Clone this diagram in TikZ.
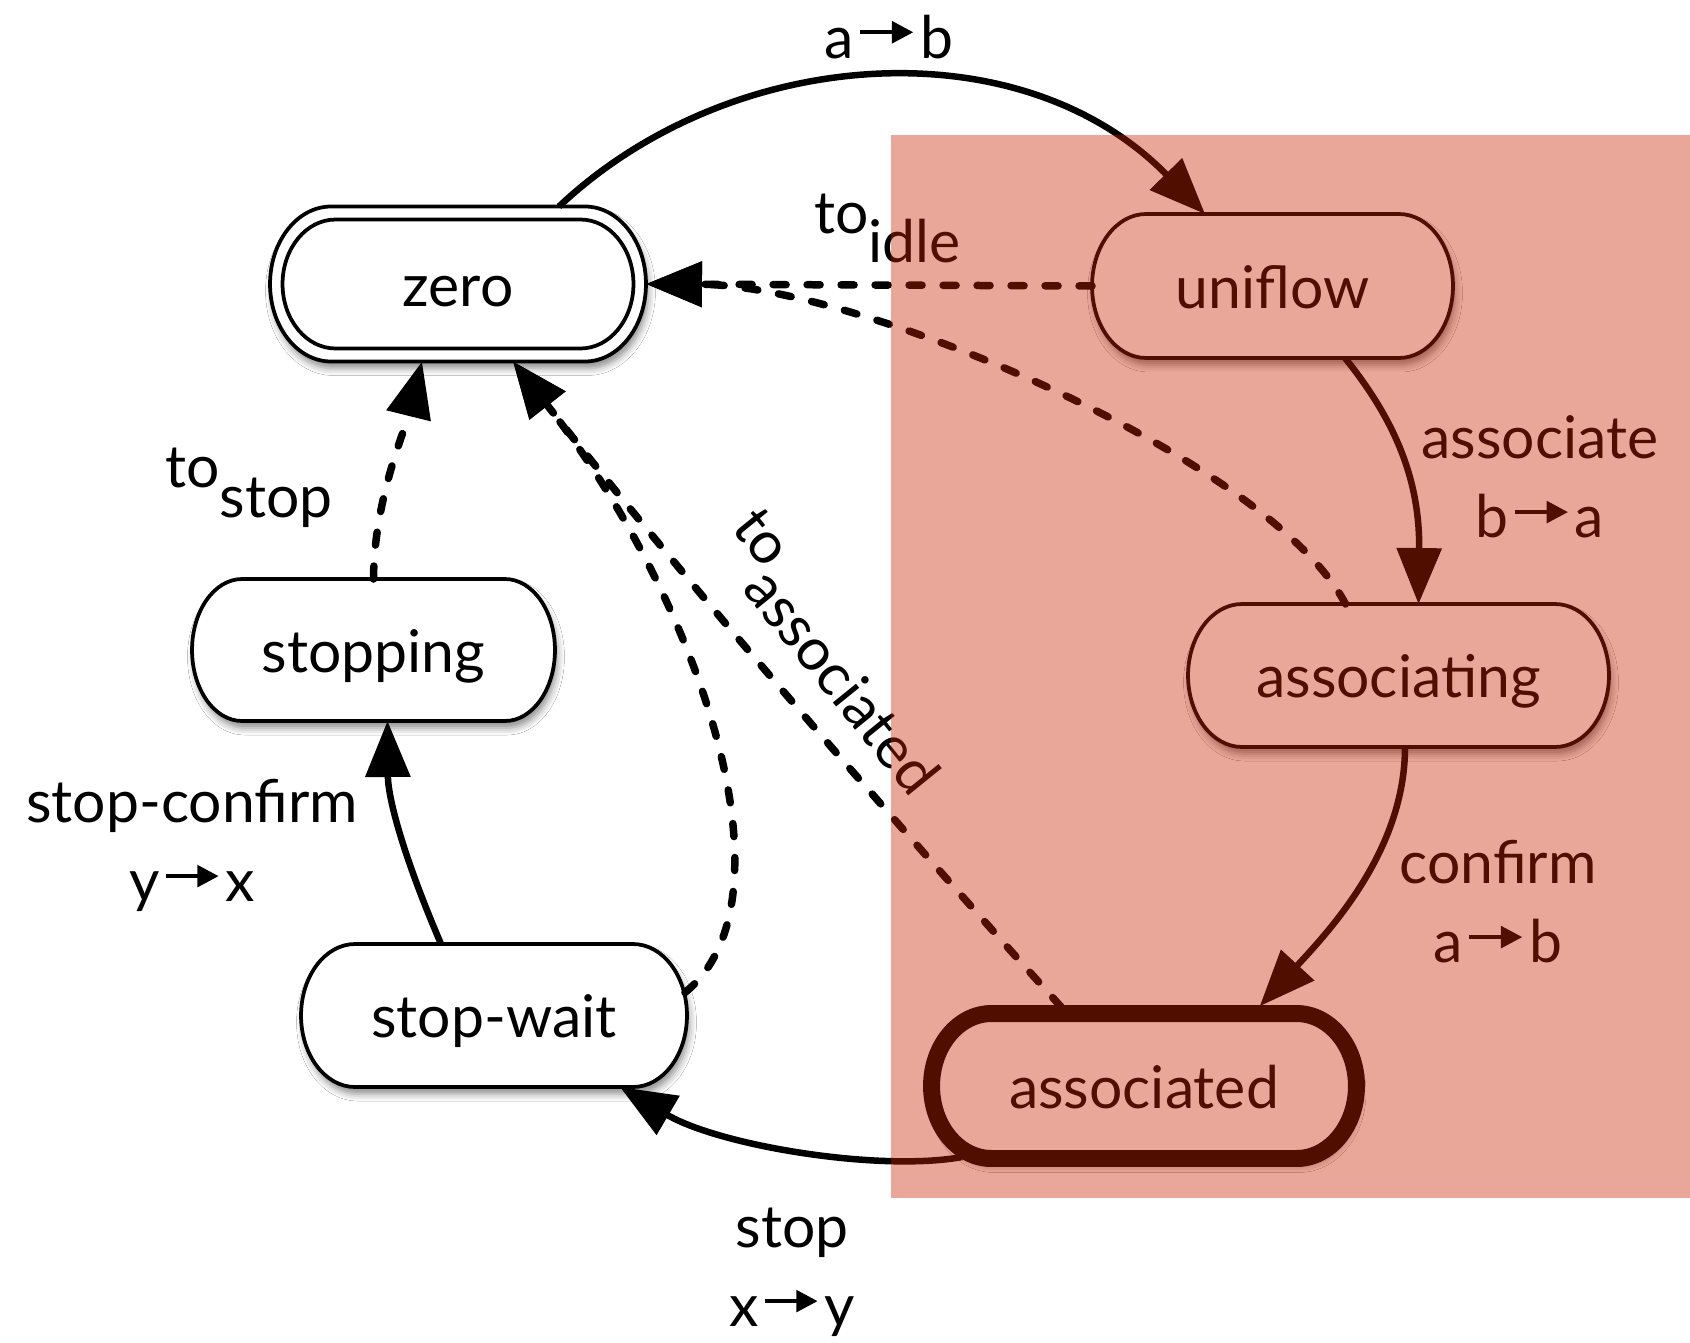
\documentclass[tikz,border=0pt]{standalone}
\usepackage{fontspec}
\setmainfont{Lato}
\usetikzlibrary{arrows.meta,shadows.blur}

\definecolor{wash}{RGB}{199,35,0}
\newcommand\statefont{\fontsize{33.5pt}{45.4pt}\selectfont}
% short arrow with a filled head, used inside the transition labels
\newcommand\tto{\kern3.5pt\tikz[x=1pt,y=1pt,baseline=0pt]{\fill (0,13.5) rectangle (19,15.8);\fill (18,8.2) -- (30,14.65) -- (18,21.1) -- cycle;}\kern4pt}
% capsule outline: [style]{centre}{half width}{half height}{corner x radius}
\newcommand\capsule[5][]{%
  \path[#1] ([shift={(-#3+#5,#4)}]#2) -- ([shift={(#3-#5,#4)}]#2)
    arc[start angle=90,end angle=-90,x radius=#5,y radius=#4]
    -- ([shift={(-#3+#5,-#4)}]#2)
    arc[start angle=270,end angle=90,x radius=#5,y radius=#4] -- cycle;}

\begin{document}
\begin{tikzpicture}[x=0.02cm,y=-0.02cm,
  state/.style={rectangle,inner sep=0pt,outer sep=0pt,text height=1.1cm,text depth=0.22cm,font=\statefont},
  shell/.style={draw=black,fill=white,line width=0.075cm,
    blur shadow={shadow xshift=0.05cm,shadow yshift=-0.14cm,shadow blur radius=0.14cm,shadow opacity=45}},
  lbl/.style={inner sep=0pt,font=\statefont,align=center},
  link/.style={line width=0.13cm,draw opacity=1,fill opacity=1,
    -{Triangle[length=1.12cm,width=0.88cm,fill=black]}},
  dashlink/.style={link,line width=0.15cm,dash pattern=on 0.26cm off 0.42cm,line cap=round}]

\useasboundingbox (0,0) rectangle (1690,1342);
\fill[white] (0,0) rectangle (1690,1342);

% state centres
\coordinate (zeroc) at (458,284);
\coordinate (unic) at (1272.5,286);
\coordinate (assocc) at (1398.5,675.5);
\coordinate (assocdc) at (1144,1086);
\coordinate (stoppingc) at (373.5,650);
\coordinate (swc) at (494,1015.5);

% state outlines
\capsule[shell]{zeroc}{3.76cm}{1.55cm}{1.22cm}
\capsule[draw=black,line width=0.075cm]{zeroc}{3.51cm}{1.29cm}{1.06cm}
\capsule[shell]{unic}{3.61cm}{1.44cm}{1.08cm}
\capsule[shell]{assocc}{4.21cm}{1.43cm}{1.08cm}
\capsule[shell,line width=0.34cm]{assocdc}{4.25cm}{1.45cm}{1.2cm}
\capsule[shell]{stoppingc}{3.63cm}{1.42cm}{1.0cm}
\capsule[shell]{swc}{3.86cm}{1.43cm}{1.08cm}

% states
\node[state,minimum width=7.52cm,minimum height=3.1cm] (zero) at (zeroc) {zero};
\node[state,minimum width=7.22cm,minimum height=2.88cm] (uni) at (unic) {uniflow};
\node[state,minimum width=8.42cm,minimum height=2.86cm] (assoc) at (assocc) {associating};
\node[state,minimum width=8.5cm,minimum height=2.9cm] (assocd) at (assocdc) {associated};
\node[state,minimum width=7.26cm,minimum height=2.84cm] (stopping) at (stoppingc) {stopping};
\node[state,minimum width=7.72cm,minimum height=2.86cm] (sw) at (swc) {stop-wait};

% transitions
\draw[link] ([xshift=2.02cm]zero.north) .. controls (730,45) and (1020,25) .. ([xshift=-1.35cm]uni.north);
\draw[dashlink] (uni.west) -- (zero.east);
\draw[dashlink] ([xshift=-1.06cm]assoc.north) .. controls (1270,460) and (860,285) .. (zero.east);
\draw[link] ([xshift=1.45cm]uni.south) .. controls (1395,420) and (1420,480) .. ([xshift=0.4cm]assoc.north);
\draw[link,shorten >=0.2cm] ([xshift=0.13cm]assoc.south) .. controls (1405,850) and (1330,930) .. ([xshift=2.18cm]assocd.north);
\draw[dashlink,shorten <=0.17cm] ([xshift=-1.54cm]assocd.north) .. controls (874,799) and (689,586) .. ([xshift=1.1cm]zero.south);
\draw[dashlink] ([shift={(-0.04cm,0.46cm)}]sw.east) .. controls (800,900) and (700,600) .. ([xshift=1.1cm]zero.south);
\draw[dashlink] (stopping.north) .. controls (374,500) and (405,430) .. ([xshift=-0.72cm]zero.south);
\draw[link] ([xshift=-1.06cm]sw.north) .. controls (405,860) and (388,800) .. ([xshift=0.28cm]stopping.south);
\draw[link] ([shift={(-3.64cm,-1.42cm)}]assocd.center) .. controls (880,1172) and (720,1146) .. ([xshift=2.52cm]sw.south);

% transition labels
\node[lbl,anchor=base] (lab) at (889,58) {a\tto b};
\node[lbl,anchor=base west] (ltoidle) at (814,233) {to\raisebox{-0.6cm}{idle}};
\node[lbl,anchor=base west] (ltostop) at (165,487) {to\raisebox{-0.6cm}{stop}};
\node[lbl,anchor=base west,rotate=-51] (ltoassoc) at (730,528) {to\raisebox{-0.6cm}{associated}};
\node[lbl] (lassociate) at (1540,482) {\strut associate\\\strut b\tto a};
\node[lbl] (lconfirm) at (1498,907) {\strut confirm\\\strut a\tto b};
\node[lbl] (lstopconfirm) at (192,846) {\strut stop-confirm\\\strut y\tto x};
\node[lbl] (lstop) at (792,1271) {\strut stop\\\strut x\tto y};

% tinted region over the right-hand states
\fill[wash,fill opacity=0.4] (891,135) rectangle (1690,1198);
\end{tikzpicture}
\end{document}
